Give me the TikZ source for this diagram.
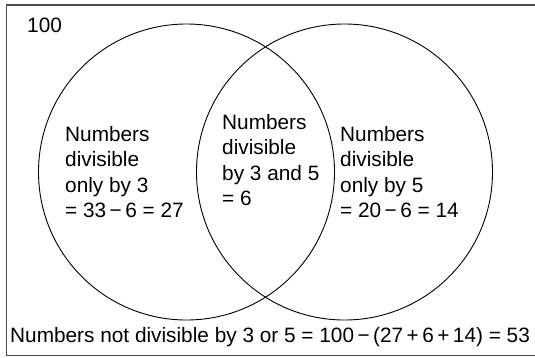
\documentclass[tikz,border=0pt]{standalone}
\usepackage{fontspec}
\setmainfont{Liberation Sans}
\begin{document}
\begin{tikzpicture}[x=1pt,y=-1pt,
  lbl/.style={anchor=base west,inner sep=0pt,align=left,
    font=\fontsize{20.8}{25.5}\selectfont},
  ring/.style={draw=black,line width=0.9pt},
  frame/.style={draw=black!70,line width=1.1pt}]
\useasboundingbox (0,0) rectangle (535,357);
\draw[frame] (6.5,5) rectangle (540,355.5);
\node[ring,circle,minimum size=296pt,inner sep=0pt] (A) at (186.5,172) {};
\node[ring,circle,minimum size=296pt,inner sep=0pt] (B) at (344.5,172) {};
\node[lbl] (U) at (27,32) {100};
\node[lbl] (L) at (65,217.5) {Numbers\\divisible\\only by 3\\= 33\,−\,6 = 27};
\node[lbl] (M) at (222,205.5) {Numbers\\divisible\\by 3 and 5\\= 6};
\node[lbl] (R) at (340,217.5) {Numbers\\divisible\\only by 5\\= 20\,−\,6 = 14};
\node[lbl] (N) at (10,342) {Numbers not divisible by 3 or 5 = 100\,−\,(27\,+\,6\,+\,14) = 53};
\end{tikzpicture}
\end{document}
